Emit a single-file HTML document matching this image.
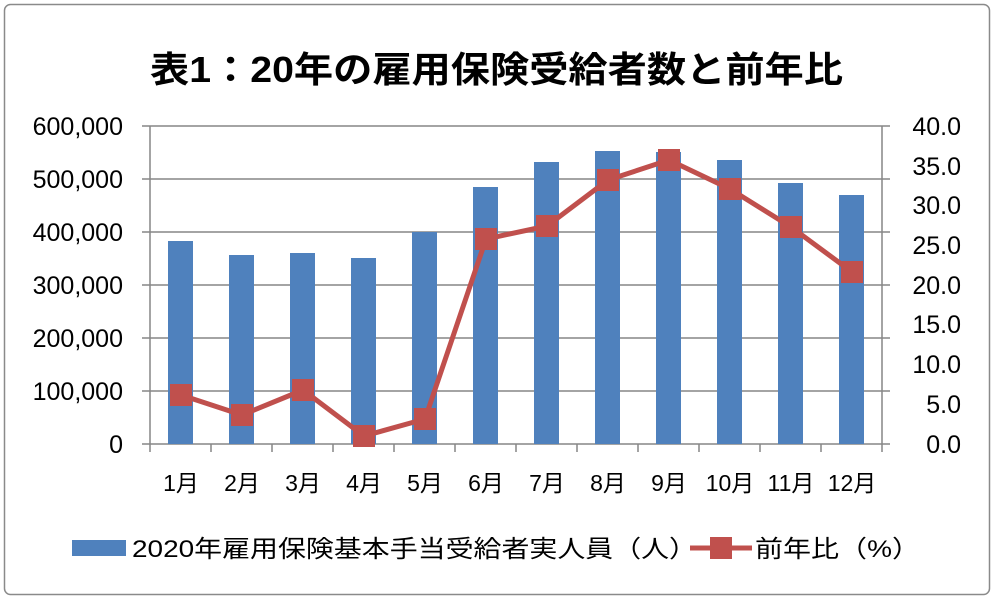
<!DOCTYPE html>
<html><head><meta charset="utf-8"><style>
body{margin:0;background:#fff;}
svg{display:block;font-family:"Liberation Sans","Noto Sans CJK JP",sans-serif;}
</style></head><body>
<svg width="1000" height="603" viewBox="0 0 1000 603">
<rect x="4.5" y="4.5" width="985" height="590" rx="6" fill="#fff" stroke="#8a8a8a" stroke-width="1.5"/>
<text x="150" y="82" font-size="36" font-weight="bold" fill="#000" textLength="693" lengthAdjust="spacingAndGlyphs">表1：20年の雇用保険受給者数と前年比</text>
<g stroke="#868686" stroke-width="1.5">
<line x1="142" y1="126" x2="890" y2="126"/>
<line x1="142" y1="179" x2="890" y2="179"/>
<line x1="142" y1="232" x2="890" y2="232"/>
<line x1="142" y1="285" x2="890" y2="285"/>
<line x1="142" y1="338" x2="890" y2="338"/>
<line x1="142" y1="391" x2="890" y2="391"/>
<line x1="142" y1="444" x2="890" y2="444"/>
<line x1="150" y1="126" x2="150" y2="452"/>
<line x1="882" y1="126" x2="882" y2="452"/>
<line x1="211" y1="444" x2="211" y2="452"/><line x1="272" y1="444" x2="272" y2="452"/>
<line x1="333" y1="444" x2="333" y2="452"/><line x1="394" y1="444" x2="394" y2="452"/>
<line x1="455" y1="444" x2="455" y2="452"/><line x1="516" y1="444" x2="516" y2="452"/>
<line x1="577" y1="444" x2="577" y2="452"/><line x1="638" y1="444" x2="638" y2="452"/>
<line x1="699" y1="444" x2="699" y2="452"/><line x1="760" y1="444" x2="760" y2="452"/>
<line x1="821" y1="444" x2="821" y2="452"/>
</g>
<g fill="#4f81bd">
<rect x="168" y="241" width="25" height="203"/>
<rect x="229" y="255" width="25" height="189"/>
<rect x="290" y="253" width="25" height="191"/>
<rect x="351" y="258" width="25" height="186"/>
<rect x="412" y="232" width="25" height="212"/>
<rect x="473" y="187" width="25" height="257"/>
<rect x="534" y="162" width="25" height="282"/>
<rect x="595" y="151" width="25" height="293"/>
<rect x="656" y="152" width="25" height="292"/>
<rect x="717" y="160" width="25" height="284"/>
<rect x="778" y="183" width="25" height="261"/>
<rect x="839" y="195" width="25" height="249"/>
</g>
<polyline fill="none" stroke="#c0504d" stroke-width="5" stroke-linejoin="round" points="181,395 242,415 303,390 364,436 425,419 486,239 547,226 608,180 669,160 730,189 791,227 852,272"/>
<g fill="#c0504d">
<rect x="170" y="384" width="22" height="22"/><rect x="231" y="404" width="22" height="22"/>
<rect x="292" y="379" width="22" height="22"/><rect x="353" y="425" width="22" height="22"/>
<rect x="414" y="408" width="22" height="22"/><rect x="475" y="228" width="22" height="22"/>
<rect x="536" y="215" width="22" height="22"/><rect x="597" y="169" width="22" height="22"/>
<rect x="658" y="149" width="22" height="22"/><rect x="719" y="178" width="22" height="22"/>
<rect x="780" y="216" width="22" height="22"/><rect x="841" y="261" width="22" height="22"/>
</g>
<g font-size="25" fill="#000" text-anchor="end">
<text x="123" y="135">600,000</text><text x="123" y="188">500,000</text>
<text x="123" y="241">400,000</text><text x="123" y="294">300,000</text>
<text x="123" y="347">200,000</text><text x="123" y="400">100,000</text>
<text x="123" y="453">0</text>
</g>
<g font-size="25" fill="#000" text-anchor="end">
<text x="961" y="135">40.0</text><text x="961" y="175">35.0</text>
<text x="961" y="214">30.0</text><text x="961" y="254">25.0</text>
<text x="961" y="294">20.0</text><text x="961" y="333">15.0</text>
<text x="961" y="373">10.0</text><text x="961" y="413">5.0</text>
<text x="961" y="453">0.0</text>
</g>
<g font-size="23" fill="#000" text-anchor="middle">
<text x="181" y="491">1月</text><text x="242" y="491">2月</text><text x="303" y="491">3月</text>
<text x="364" y="491">4月</text><text x="425" y="491">5月</text><text x="486" y="491">6月</text>
<text x="547" y="491">7月</text><text x="608" y="491">8月</text><text x="669" y="491">9月</text>
<text x="730" y="491">10月</text><text x="791" y="491">11月</text><text x="852" y="491">12月</text>
</g>
<rect x="72" y="540" width="54" height="16" fill="#4f81bd"/>
<text x="132" y="557" font-size="24" fill="#000" textLength="565" lengthAdjust="spacingAndGlyphs">2020年雇用保険基本手当受給者実人員（人）</text>
<line x1="690" y1="548" x2="752" y2="548" stroke="#c0504d" stroke-width="5"/>
<rect x="710" y="537" width="22" height="22" fill="#c0504d"/>
<text x="755" y="557" font-size="24" fill="#000" textLength="165" lengthAdjust="spacingAndGlyphs">前年比（%）</text>
</svg>
</body></html>
